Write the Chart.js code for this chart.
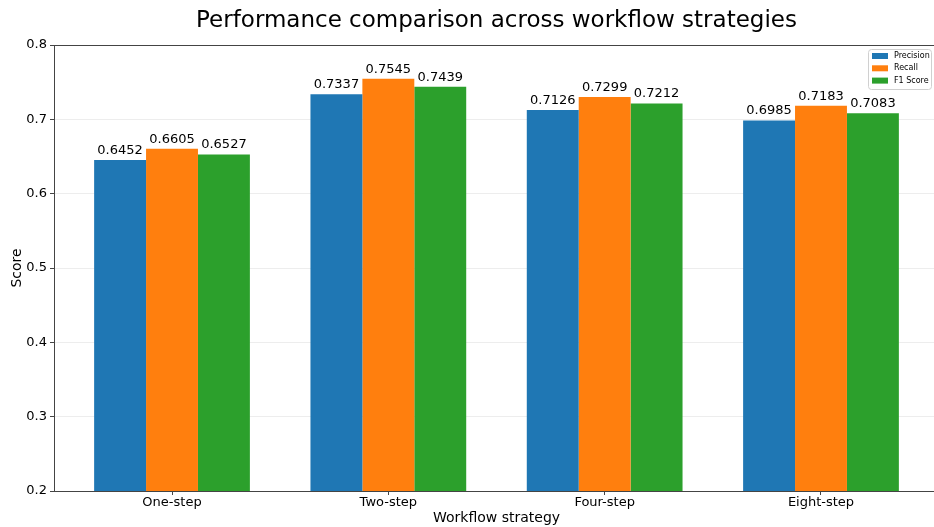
<!DOCTYPE html>
<html>
<head>
<meta charset="utf-8">
<script src="https://cdn.jsdelivr.net/npm/chart.js@4/dist/chart.umd.min.js"></script>
<style>
  html, body { margin: 0; padding: 0; overflow: hidden; background: #fff; }
  canvas { display: block; }
</style>
</head>
<body>
<canvas id="myChart" width="945" height="527"></canvas>
<script>
const strategies = ['One-step', 'Two-step', 'Four-step', 'Eight-step'];
const precision = [0.6452, 0.7337, 0.7126, 0.6985];
const recall = [0.6605, 0.7545, 0.7299, 0.7183];
const f1Score = [0.6527, 0.7439, 0.7212, 0.7083];
const yTicks = [0.2, 0.3, 0.4, 0.5, 0.6, 0.7, 0.8];

const FONT = "'DejaVu Sans', sans-serif";
const toPoints = arr => arr.map((v, i) => ({ x: i, y: v }));

// value labels on top of each bar
const barLabels = {
  id: 'barLabels',
  afterDatasetsDraw(chart) {
    const c = chart.ctx;
    c.save();
    c.font = '13px ' + FONT;
    c.fillStyle = '#000';
    c.textAlign = 'center';
    c.textBaseline = 'bottom';
    chart.data.datasets.forEach((ds, i) => {
      chart.getDatasetMeta(i).data.forEach((bar, j) => {
        c.fillText(ds.data[j].y.toFixed(4), bar.x, bar.y - 3);
      });
    });
    c.restore();
  }
};

// matplotlib-like legend box in the upper right of the plot
const boxLegend = {
  id: 'boxLegend',
  afterDraw(chart) {
    const c = chart.ctx;
    const area = chart.chartArea;
    const w = 63, h = 40;
    const x = area.right - 8 - w, y = area.top + 4;
    c.save();
    c.fillStyle = 'rgba(255,255,255,0.85)';
    c.strokeStyle = '#d0d0d0';
    c.lineWidth = 1;
    c.beginPath();
    c.roundRect(x + 0.5, y + 0.5, w, h, 3);
    c.fill();
    c.stroke();
    c.font = '8px ' + FONT;
    c.textBaseline = 'middle';
    chart.data.datasets.forEach((ds, i) => {
      const cy = y + 7 + i * 12.3;
      c.fillStyle = ds.backgroundColor;
      c.fillRect(x + 4, cy - 3, 16, 6);
      c.fillStyle = '#000';
      c.fillText(ds.label, x + 26, cy);
    });
    c.restore();
  }
};

const ctx = document.getElementById('myChart').getContext('2d');

new Chart(ctx, {
  type: 'bar',
  data: {
    datasets: [
      { label: 'Precision', data: toPoints(precision), backgroundColor: '#1f77b4' },
      { label: 'Recall', data: toPoints(recall), backgroundColor: '#ff7f0e' },
      { label: 'F1 Score', data: toPoints(f1Score), backgroundColor: '#2ca02c' }
    ]
  },
  plugins: [barLabels, boxLegend],
  options: {
    responsive: false,
    animation: false,
    categoryPercentage: 0.72,
    barPercentage: 1.0,
    layout: { padding: { left: 0, right: 6, top: 0, bottom: 0 } },
    plugins: {
      legend: { display: false },
      tooltip: { enabled: false },
      title: {
        display: true,
        fullSize: false,
        text: 'Performance comparison across workflow strategies',
        color: '#000',
        font: { family: FONT, size: 23, weight: 'normal' },
        padding: { top: 7, bottom: 10.4 }
      }
    },
    scales: {
      x: {
        type: 'linear',
        offset: false,
        min: -0.5455,
        max: 3.5455,
        afterBuildTicks: scale => { scale.ticks = strategies.map((s, i) => ({ value: i })); },
        afterFit: scale => { scale.height = 36; },
        ticks: {
          callback: v => strategies[v],
          color: '#000',
          font: { family: FONT, size: 13 },
          padding: 0,
          maxRotation: 0
        },
        grid: {
          offset: false,
          drawOnChartArea: false,
          drawTicks: true,
          tickLength: 4,
          tickColor: '#444'
        },
        border: { color: '#444', width: 1 },
        title: {
          display: true,
          text: 'Workflow strategy',
          color: '#000',
          font: { family: FONT, size: 14 },
          padding: { top: 0, bottom: 0 }
        }
      },
      y: {
        min: 0.2,
        max: 0.8,
        afterBuildTicks: scale => { scale.ticks = yTicks.map(v => ({ value: v })); },
        afterFit: scale => { scale.width = 54; },
        ticks: {
          callback: v => v.toFixed(1),
          color: '#000',
          font: { family: FONT, size: 13 },
          padding: 3
        },
        grid: {
          color: ctx => ctx.tick && ctx.tick.value >= 0.8 ? '#444' : 'rgba(0,0,0,0.07)',
          tickColor: '#444',
          tickLength: 4
        },
        border: { color: '#444', width: 1 },
        title: {
          display: true,
          text: 'Score',
          color: '#000',
          font: { family: FONT, size: 14 },
          padding: { top: 9, bottom: 0 }
        }
      }
    }
  }
});
</script>
</body>
</html>
